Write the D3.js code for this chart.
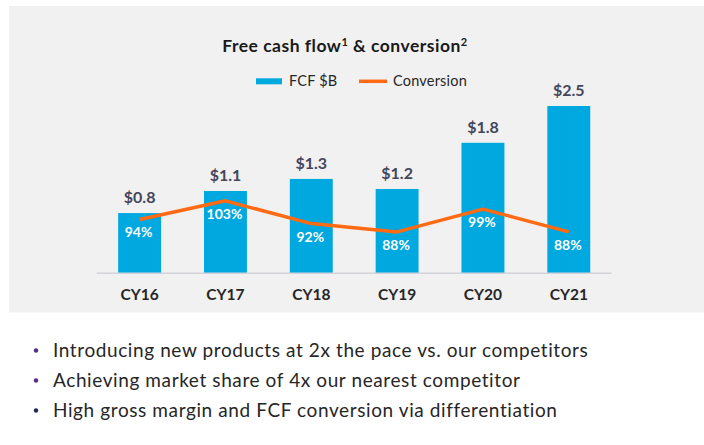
<!DOCTYPE html>
<html>
<head>
<meta charset="utf-8">
<script src="https://cdn.jsdelivr.net/npm/d3@7"></script>
<style>
  body { margin: 0; background: #fff; }
  svg { display: block; font-family: Lato, "Open Sans", sans-serif; }
</style>
</head>
<body>
<div id="chart"></div>
<script>
// data
const years = ['CY16', 'CY17', 'CY18', 'CY19', 'CY20', 'CY21'];
const fcf = [0.90, 1.23, 1.41, 1.26, 1.95, 2.5];          // bar heights ($B)
const fcfLabels = ['$0.8', '$1.1', '$1.3', '$1.2', '$1.8', '$2.5'];
const conversion = [94, 103, 92, 88, 99, 88];              // %
const bullets = [
  'Introducing new products at 2x the pace vs. our competitors',
  'Achieving market share of 4x our nearest competitor',
  'High gross margin and FCF conversion via differentiation'
];
const bulletColors = ['#5b2a86', '#5b2a86', '#1f2a5a'];

const W = 704, H = 445;
const baseY = 273.3, topY = 106;

const svg = d3.select('#chart').append('svg')
  .attr('width', W)
  .attr('height', H);

// grey panel behind the chart
svg.append('rect')
  .attr('x', 9).attr('y', 6)
  .attr('width', W - 9).attr('height', 306.5)
  .attr('fill', '#f1f1f1');

const x = d3.scaleBand()
  .domain(years)
  .range([96.7, 611.7])
  .paddingInner(0.5)
  .paddingOuter(0.25);

const y = d3.scaleLinear()
  .domain([0, 2.5])
  .range([baseY, topY]);

const yConv = d3.scaleLinear()
  .domain([68, 148.8])
  .range([baseY, topY]);

// title
const title = svg.append('text')
  .attr('x', 345).attr('y', 51.5)
  .attr('text-anchor', 'middle')
  .attr('font-size', 17.5)
  .attr('letter-spacing', 0.5)
  .attr('font-weight', 700)
  .attr('fill', '#1a1a1a');
title.append('tspan').text('Free cash flow');
title.append('tspan').attr('font-size', 11).attr('dy', -6).text('1');
title.append('tspan').attr('dy', 6).text(' & conversion');
title.append('tspan').attr('font-size', 11).attr('dy', -6).text('2');

// legend
const legend = svg.append('g')
  .attr('font-size', 14.5)
  .attr('letter-spacing', 0.2)
  .attr('fill', '#262626');
legend.append('rect')
  .attr('x', 256).attr('y', 78.3)
  .attr('width', 26).attr('height', 6)
  .attr('fill', '#00a8e0');
legend.append('text').attr('x', 289).attr('y', 85.5).text('FCF $B');
legend.append('line')
  .attr('x1', 359).attr('x2', 387)
  .attr('y1', 81.3).attr('y2', 81.3)
  .attr('stroke', '#ff6a13').attr('stroke-width', 3.5);
legend.append('text').attr('x', 393).attr('y', 85.5).text('Conversion');

// bars
svg.append('g')
  .selectAll('rect')
  .data(fcf)
  .join('rect')
  .attr('x', (d, i) => x(years[i]))
  .attr('y', d => y(d))
  .attr('width', x.bandwidth())
  .attr('height', d => baseY - y(d))
  .attr('fill', '#00a8e0');

// baseline
svg.append('line')
  .attr('x1', 96.7).attr('x2', 611.7)
  .attr('y1', baseY).attr('y2', baseY)
  .attr('stroke', '#d3d3da').attr('stroke-width', 1.5);

// bar value labels
svg.append('g')
  .selectAll('text')
  .data(fcf)
  .join('text')
  .attr('x', (d, i) => x(years[i]) + x.bandwidth() / 2)
  .attr('y', d => y(d) - 10)
  .attr('text-anchor', 'middle')
  .attr('font-size', 16)
  .attr('font-weight', 700)
  .attr('fill', '#44465a')
  .text((d, i) => fcfLabels[i]);

// conversion line
const line = d3.line()
  .x((d, i) => x(years[i]) + x.bandwidth() / 2)
  .y(d => yConv(d));

svg.append('path')
  .datum(conversion)
  .attr('d', line)
  .attr('fill', 'none')
  .attr('stroke', '#ff6a13')
  .attr('stroke-width', 3.5)
  .attr('stroke-linejoin', 'round');

// conversion labels inside the bars
svg.append('g')
  .selectAll('text')
  .data(conversion)
  .join('text')
  .attr('x', (d, i) => x(years[i]) + x.bandwidth() / 2 - 1)
  .attr('y', d => yConv(d) + 18)
  .attr('text-anchor', 'middle')
  .attr('font-size', 14)
  .attr('font-weight', 700)
  .attr('fill', '#ffffff')
  .text(d => d + '%');

// x axis labels
const xAxis = d3.axisBottom(x).tickSize(0).tickPadding(0);
svg.append('g')
  .attr('transform', `translate(0,${baseY})`)
  .call(xAxis)
  .call(g => g.select('.domain').remove())
  .selectAll('text')
  .attr('y', 27)
  .attr('dy', 0)
  .attr('font-family', 'Lato, sans-serif')
  .attr('font-size', 15.5)
  .attr('font-weight', 700)
  .attr('fill', '#262626');

// bullet points
const items = svg.append('g')
  .selectAll('g')
  .data(bullets)
  .join('g')
  .attr('transform', (d, i) => `translate(0,${356.5 + i * 30})`);

items.append('circle')
  .attr('cx', 36).attr('cy', -6)
  .attr('r', 2.2)
  .attr('fill', (d, i) => bulletColors[i]);

items.append('text')
  .attr('x', 53)
  .attr('font-size', 19)
  .attr('letter-spacing', 0.6)
  .attr('fill', '#262626')
  .text(d => d);
</script>
</body>
</html>
